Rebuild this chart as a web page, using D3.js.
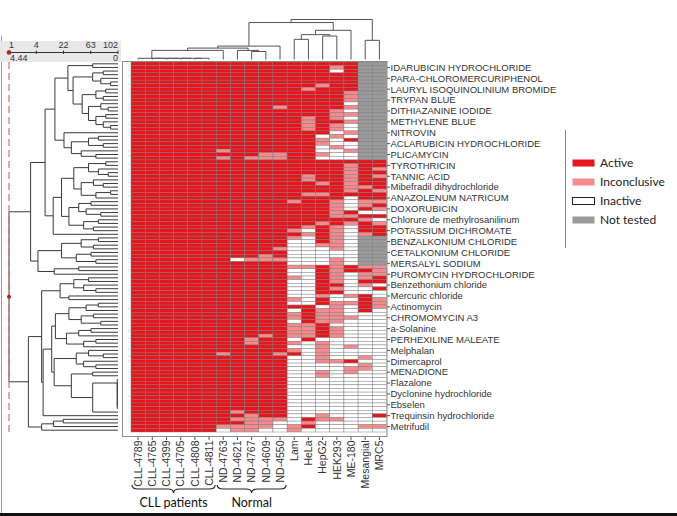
<!DOCTYPE html>
<html>
<head>
<meta charset="utf-8">
<script src="https://cdn.jsdelivr.net/npm/d3@7"></script>
<style>
body { margin: 0; background: #fff; }
svg { display: block; }
</style>
</head>
<body>
<div id="chart"></div>
<script>
var width = 677, height = 516;

var columns = ["CLL-4789", "CLL-4765", "CLL-4399", "CLL-4705", "CLL-4808", "CLL-4811",
    "ND-4763", "ND-4621", "ND-4767", "ND-4609", "ND-4550",
    "Lam", "HeLa", "HepG2", "HEK293", "ME-180", "Mesangial", "MRC5"];

// one label every third row (label i sits on row 3*i+1)
var rowLabels = ["IDARUBICIN HYDROCHLORIDE", "PARA-CHLOROMERCURIPHENOL", "LAURYL ISOQUINOLINIUM BROMIDE",
    "TRYPAN BLUE", "DITHIAZANINE IODIDE", "METHYLENE BLUE", "NITROVIN", "ACLARUBICIN HYDROCHLORIDE",
    "PLICAMYCIN", "TYROTHRICIN", "TANNIC ACID", "Mibefradil dihydrochloride", "ANAZOLENUM NATRICUM",
    "DOXORUBICIN", "Chlorure de methylrosanilinum", "POTASSIUM DICHROMATE", "BENZALKONIUM CHLORIDE",
    "CETALKONIUM CHLORIDE", "MERSALYL SODIUM", "PUROMYCIN HYDROCHLORIDE", "Benzethonium chloride",
    "Mercuric chloride", "Actinomycin", "CHROMOMYCIN A3", "a-Solanine", "PERHEXILINE MALEATE",
    "Melphalan", "Dimercaprol", "MENADIONE", "Flazalone", "Dyclonine hydrochloride", "Ebselen",
    "Trequinsin hydrochloride", "Metrifudil"];

// a = active, i = inconclusive, n = inactive, x = not tested (one string per row, one char per column)
var cellCodes = [
    "aaaaaaaaaaaaaaaaxx", "aaaaaaaaaaaaaaiaxx", "aaaaaaaaaaaaaanaxx", "aaaaaaaaaaaaaaaaxx",
    "aaaaaaaaaaaaaaaaxx", "aaaaaaaaaaaaaaaaxx", "aaaaaaaaaaaaaiaaxx", "aaaaaaaaaaaaiaaaxx",
    "aaaaaaaaaaaaaaaixx", "aaaaaaaaaaaaaaaixx", "aaaaaaaaaaaaaaaixx", "aaaaaaaaaaaaaaanxx",
    "aaaaaaaaaaiaaaaixx", "aaaaaaaaaaaaaainxx", "aaaaaaaaaaaaaaiixx", "aaaaaaaaaaaaiainxx",
    "aaaaaaaaaaaaiaaixx", "aaaaaaaaaaaaiainxx", "aaaaaaaaaaaaiainxx", "aaaaaaaaaaaaaanixx",
    "aaaaaaaaaaaaaninxx", "aaaaaaaaaaaaainaxx", "aaaaaaaaaaaaainnxx", "aaaaaaaaaaaaaninxx",
    "aaaaaaiaaaaaannixx", "aaaaaaaaaiiaainnxx", "aaaaaaiaiiiaannnxx",
    "aaaaaaaaaaaaaaaaaa", "aaaaaaaaaaaaaaaiaa", "aaaaaaaaaaaaaaaiai", "aaaaaaaaaaaaaaaiaa",
    "aaaaaaaaaaaaiaaiai", "aaaaaaaaaaaaiaaiaa", "aaaaaaaaaaaaaiaiaa", "aaaaaaaaaaaaaaaiia",
    "aaaaaaaaaaaaaaaiai", "aaaaaaaaaaaaiiaaaa", "aaaaaaaaaaaaaaanaa", "aaaaaaaaaaaiaainii",
    "aaaaaaaaaaaaaainia", "aaaaaaaaaaaaaainai", "aaaaaaaaaaaaaaiann", "aaaaaaaaaaaaaaiiaa",
    "aaaaaaaaaaaaaaaain", "aaaaaaaaaaaaaiaiai", "aaaaaaaaaaaaiainaa", "aaaaaaaaaaainainaa",
    "aaaaaaaaaaaaiainia",
    "aaaaaaaaaaainainxx", "aaaaaaaaaaannainxx", "aaaaaaaaaaanniinxx", "aaaaaaaaaainnninxx",
    "aaaaaaaaaaannnnnxx", "aaaaaaaaaiannnnnxx", "aaaaaaaniiinnninxx", "aaaaaaaaaaannninxx",
    "aaaaaaaaaaaiiaiaii", "aaaaaaaaaaannaiaai", "aaaaaaaaaaannainii",
    "aaaaaaaaaaainainia", "aaaaaaaaaaannainaa", "aaaaaaaaaaannaanin", "aaaaaaaaaaannainna",
    "aaaaaaaaaaannaannn", "aaaaaaaaaaanninian", "aaaaaaaaaaainannai", "aaaaaaaaaaannaiiai",
    "aaaaaaaaaaaaaninai", "aaaaaaaaaaanaiinan", "aaaaaaaaaaaiaiinnn", "aaaaaaaaaaaiaiiinn",
    "aaaaaaaaaaanaiinnn", "aaaaaaaaaaaiiannnn", "aaaaaaaaaaaiiainnn", "aaaaaaaaaaaiiainnn",
    "aaaaaaaaaiaiiainnn", "aaaaaaaaiaanannnnn", "aaaaaaaaiaaininnnn", "aaaaaaaaaaannininn",
    "aaaaaaaaaaaininnnn", "aaaaaaiaaaianinnnn", "aaaaaaaaaaanninnin", "aaaaaaaaaaanniiann",
    "aaaaaaaaaaannnnnin", "aaaaaaaaaaannnniin", "aaaaaaaaaaannininn", "aaaaaaaaaaanninnnn",
    "aaaaaaaaaaannnnnnn", "aaaaaaaaaaannnnnnn", "aaaaaaaaaaannnnnnn", "aaaaaaaaaaannnnnnn",
    "aaaaaaaaaaannnnnnn", "aaaaaaaaaaannnnnnn", "aaaaaaaaaaannnnnnn", "aaaaaaaaaaannnnnnn",
    "aaaaaaaaaaannnnnnn", "aaaaaaaiaaannnnnnn", "aaaaaaaaiaanninnna", "aaaaaaaiiiinaiinnn",
    "aaaaaaaaiinninnnnn", "aaaaaaiiiiniannnii", "aaaaaaniinninnnnnn"
];

var codes = ["a", "i", "n", "x"];
var legendNames = ["Active", "Inconclusive", "Inactive", "Not tested"];

// dendrograms: [distance, left, right], leaves are row / column indices
var colTree = [1.0,
    [0.924,
        [0.335,
            [0.285,
                [0.227, [0.03, 0, [0.03, 1, [0.03, 2, [0.03, 3, [0.03, 4, 5]]]]], 6],
                [0.227, 7, [0.2, 8, 9]]],
            10],
        [0.73, [0.622, [0.504, 11, 12], [0.587, 13, 14]], 15]],
    [0.479, 16, 17]];

var rowTree = [4.44,
    [3.56,
        [2.97,
            [2.57,
                [2.04, [1.03, 0, 1],
                    [1.83, [1.03, [0.6, 2, 3], [0.7, 4, [0.3, 5, 6]]],
                        [1.46, [0.9, [0.5, 7, 8], [0.6, 9, 10]],
                            [1.2, [0.7, 11, [0.4, 12, 13]], [0.9, [0.5, 14, 15], [0.6, 16, [0.3, 17, 18]]]]]]],
                [2.2, 19, [1.9, [1.2, [0.8, 20, 21], [0.6, 22, 23]], [1.5, 24, [0.9, 25, 26]]]]],
            [2.64,
                [2.3, [1.8, [1.2, [0.5, 27, 28], [0.8, 29, [0.4, 30, 31]]], [1.5, [1.0, 32, [0.6, 33, 34]], [0.9, [0.3, 35, 36], 37]]],
                    [2.0, [1.6, [1.1, 38, 39], [1.3, 40, [0.7, 41, 42]]], [1.4, [0.8, 43, 44], [1.0, 45, 46]]]],
                47]],
        [3.26, [2.3, [1.5, [0.8, 48, 49], [1.0, 50, 51]], [1.7, [1.1, 52, 53], [0.9, 54, 55]]], [2.6, [1.6, 56, 57], 58]]],
    [3.65,
        [3.11,
            [2.36, [1.8, [1.2, 59, 60], [1.4, 61, [0.9, 62, 63]]], [2.0, 64, 65]],
            [3.05,
                [2.7,
                    [2.55, [2.0, [1.3, [0.8, 66, 67], 68], [1.5, [1.0, 69, 70], [0.7, 71, 72]]],
                        [2.1, [1.6, [1.1, 73, 74], 75], [1.4, [0.9, 76, 77], 78]]],
                    [2.6, [1.7, [1.2, 79, [0.6, 80, 81]], [1.4, 82, [0.9, 83, 84]]],
                        [1.9, [1.03, 85, 86],
                            [1.03, [0.03, 87, [0.03, 88, [0.03, 89, [0.03, 90, [0.03, 91, [0.03, 92, [0.03, 93, [0.03, 94, 95]]]]]]]], 96]]]],
                97]],
        [3.11, [2.63, [2.23, 98, 99], 100], 101]]];

var clusterTicks = [1, 4, 22, 63, 102];
var tickDistances = [4.44, 3.33, 2.22, 1.11, 0];
var groups = [{ name: "CLL patients", from: 0, to: 5 }, { name: "Normal", from: 6, to: 10 }];

var svg = d3.select("#chart").append("svg")
    .attr("width", width)
    .attr("height", height);

var x = d3.scaleBand().domain(d3.range(columns.length)).range([131, 386.5]);
var y = d3.scaleBand().domain(d3.range(cellCodes.length)).range([62, 432]);
var color = d3.scaleOrdinal().domain(codes).range(["#e8141b", "#f68a8d", "#ffffff", "#9a9a9a"]);
var rowX = d3.scaleLinear().domain([0, 4.44]).range([118, 9]);
var colY = d3.scaleLinear().domain([0, 1]).range([59.5, 19.5]);

// frames
svg.append("line").attr("x1", 1.5).attr("x2", 1.5).attr("y1", 36).attr("y2", 516)
    .attr("stroke", "#9a9a9a");
svg.append("rect").attr("x", 0).attr("y", 513).attr("width", width).attr("height", 3).attr("fill", "#111");
svg.append("rect").attr("x", 122.5).attr("y", 61.5).attr("width", 264.5).attr("height", 375)
    .attr("fill", "none").attr("stroke", "#8c8c8c");

// heatmap
var cells = [];
cellCodes.forEach(function (s, r) {
    for (var c = 0; c < s.length; c++) cells.push({ r: r, c: c, v: s[c] });
});
svg.append("g").selectAll("rect").data(cells).enter().append("rect")
    .attr("x", d => x(d.c))
    .attr("y", d => y(d.r))
    .attr("width", x.bandwidth())
    .attr("height", y.bandwidth())
    .attr("fill", d => color(d.v))
    .attr("stroke", "#7a7a7a")
    .attr("stroke-width", 0.45);

// row labels
var lab = svg.append("g").style("font-family", "'Liberation Sans', Arial, sans-serif")
    .style("font-size", "9.5px").attr("fill", "#333");
rowLabels.forEach(function (name, i) {
    var cy = y(i * 3 + 1) + y.bandwidth() / 2;
    lab.append("line").attr("x1", 387).attr("x2", 390).attr("y1", cy).attr("y2", cy).attr("stroke", "#555");
    lab.append("text").attr("x", 390.5).attr("y", cy).attr("dy", "0.35em").text(name);
});

// column labels
columns.forEach(function (name, c) {
    var cx = x(c) + x.bandwidth() / 2;
    lab.append("line").attr("x1", cx).attr("x2", cx).attr("y1", 437).attr("y2", 440).attr("stroke", "#555");
    lab.append("text").attr("transform", "translate(" + cx + ",440.5) rotate(-90)")
        .attr("text-anchor", "end").attr("dy", "0.35em").style("font-size", "10.5px").text(name);
});

// dendrograms
function rowLayout(node, out) {
    if (typeof node === "number") return { pos: y(node) + y.bandwidth() / 2, d: 0 };
    var a = rowLayout(node[1], out), b = rowLayout(node[2], out);
    var x0 = rowX(node[0]);
    out.push([x0, a.pos, x0, b.pos]);
    out.push([x0, a.pos, rowX(a.d), a.pos]);
    out.push([x0, b.pos, rowX(b.d), b.pos]);
    return { pos: (a.pos + b.pos) / 2, d: node[0] };
}
function colLayout(node, out) {
    if (typeof node === "number") return { pos: x(node) + x.bandwidth() / 2, d: 0 };
    var a = colLayout(node[1], out), b = colLayout(node[2], out);
    var y0 = colY(node[0]);
    out.push([a.pos, y0, b.pos, y0]);
    out.push([a.pos, y0, a.pos, colY(a.d)]);
    out.push([b.pos, y0, b.pos, colY(b.d)]);
    return { pos: (a.pos + b.pos) / 2, d: node[0] };
}
var rowLines = [], colLines = [];
var rootRow = rowLayout(rowTree, rowLines);
colLayout(colTree, colLines);

svg.append("g").selectAll("line").data(rowLines).enter().append("line")
    .attr("x1", d => d[0]).attr("y1", d => d[1]).attr("x2", d => d[2]).attr("y2", d => d[3])
    .attr("stroke", "#3a3a3a").attr("stroke-width", 1);
svg.append("g").selectAll("line").data(colLines).enter().append("line")
    .attr("x1", d => d[0]).attr("y1", d => d[1]).attr("x2", d => d[2]).attr("y2", d => d[3])
    .attr("stroke", "#555").attr("stroke-width", 1);

// distance ruler of row dendrogram
var ruler = svg.append("g");
ruler.append("rect").attr("x", 0).attr("y", 41).attr("width", 121).attr("height", 21).attr("fill", "#e8e8e8");
ruler.append("line").attr("x1", rowX(4.44)).attr("x2", rowX(0)).attr("y1", 52.5).attr("y2", 52.5)
    .attr("stroke", "#333");
tickDistances.forEach(function (d, i) {
    ruler.append("line").attr("x1", rowX(d)).attr("x2", rowX(d)).attr("y1", 50.5).attr("y2", 54)
        .attr("stroke", "#333");
    ruler.append("text").attr("x", rowX(d)).attr("y", 48)
        .attr("text-anchor", i == 0 ? "start" : i == 4 ? "end" : "middle")
        .style("font-family", "'Liberation Sans', Arial, sans-serif").style("font-size", "9px")
        .attr("fill", "#333").text(clusterTicks[i]);
});
ruler.append("text").attr("x", rowX(4.44) + 1).attr("y", 61)
    .style("font-family", "'Liberation Sans', Arial, sans-serif").style("font-size", "9px")
    .attr("fill", "#333").text(tickDistances[0]);
ruler.append("text").attr("x", rowX(0)).attr("y", 61).attr("text-anchor", "end")
    .style("font-family", "'Liberation Sans', Arial, sans-serif").style("font-size", "9px")
    .attr("fill", "#333").text(tickDistances[4]);
ruler.append("circle").attr("cx", rowX(4.44)).attr("cy", 52.5).attr("r", 2.3).attr("fill", "#b0201c");

svg.append("line").attr("x1", rowX(4.44)).attr("x2", rowX(4.44)).attr("y1", 62).attr("y2", 436)
    .attr("stroke", "#e06a6a").attr("stroke-width", 1.2).attr("stroke-dasharray", "7,4");
svg.append("circle").attr("cx", rowX(4.44)).attr("cy", rootRow.pos).attr("r", 2).attr("fill", "#b0201c");

// braces under the column labels
function brace(x1, x2, y0, h) {
    var m = (x1 + x2) / 2, r = 6;
    return "M" + x1 + "," + y0 +
        " Q" + x1 + "," + (y0 + h / 2) + " " + (x1 + r) + "," + (y0 + h / 2) +
        " L" + (m - r) + "," + (y0 + h / 2) +
        " Q" + m + "," + (y0 + h / 2) + " " + m + "," + (y0 + h) +
        " Q" + m + "," + (y0 + h / 2) + " " + (m + r) + "," + (y0 + h / 2) +
        " L" + (x2 - r) + "," + (y0 + h / 2) +
        " Q" + x2 + "," + (y0 + h / 2) + " " + x2 + "," + y0;
}
groups.forEach(function (g) {
    var x1 = x(g.from) + 1, x2 = x(g.to) + x.bandwidth() - 1;
    svg.append("path").attr("d", brace(x1, x2, 485, 8)).attr("fill", "none")
        .attr("stroke", "#222").attr("stroke-width", 1.1);
    svg.append("text").attr("x", (x1 + x2) / 2).attr("y", 507).attr("text-anchor", "middle")
        .style("font-family", "Lato, 'Open Sans', sans-serif").style("font-size", "12.5px")
        .attr("fill", "#111").text(g.name);
});

// legend
var legend = svg.append("g");
legend.append("line").attr("x1", 565.5).attr("x2", 565.5).attr("y1", 130).attr("y2", 248).attr("stroke", "#888");
codes.forEach(function (k, i) {
    var ly = 163 + i * 19;
    legend.append("rect").attr("x", 572.5).attr("y", ly - 3.5).attr("width", 22).attr("height", 7)
        .attr("fill", color(k)).attr("stroke", k == "n" ? "#222" : "none");
    legend.append("text").attr("x", 600).attr("y", ly).attr("dy", "0.35em")
        .style("font-family", "Lato, 'Open Sans', sans-serif").style("font-size", "12px")
        .attr("fill", "#222").text(legendNames[i]);
});
</script>
</body>
</html>
